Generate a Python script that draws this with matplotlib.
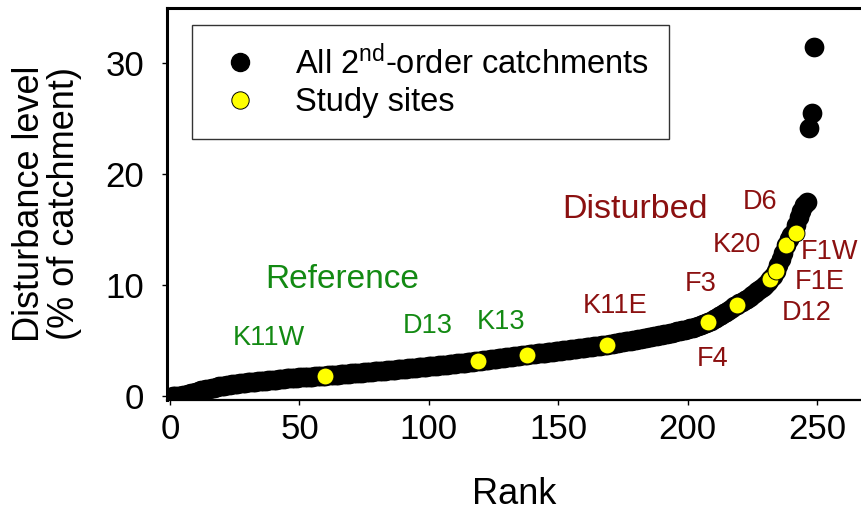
import matplotlib
matplotlib.use("Agg")
import matplotlib.pyplot as plt
from matplotlib.lines import Line2D

plt.rcParams['font.family'] = ['Liberation Sans', 'DejaVu Sans']
plt.rcParams['mathtext.fontset'] = 'custom'
plt.rcParams['mathtext.rm'] = 'Liberation Sans'
plt.rcParams['mathtext.it'] = 'Liberation Sans:italic'

# disturbance level (% of catchment) of every 2nd-order catchment, ranked 1..249
disturbance = [
    0.0, 0.0, 0.0, 0.02, 0.05, 0.1, 0.16, 0.23, 0.3, 0.37,
    0.44, 0.5, 0.56, 0.61, 0.66, 0.71, 0.76, 0.81, 0.86, 0.9,
    0.94, 0.98, 1.01, 1.04, 1.07, 1.1, 1.13, 1.16, 1.19, 1.22,
    1.25, 1.27, 1.3, 1.32, 1.34, 1.37, 1.39, 1.41, 1.44, 1.46,
    1.48, 1.51, 1.53, 1.55, 1.58, 1.6, 1.62, 1.64, 1.66, 1.68,
    1.69, 1.71, 1.72, 1.74, 1.75, 1.77, 1.78, 1.8, 1.81, 1.83,
    1.85, 1.87, 1.89, 1.91, 1.93, 1.95, 1.97, 1.99, 2.01, 2.03,
    2.05, 2.07, 2.09, 2.11, 2.13, 2.15, 2.17, 2.19, 2.21, 2.23,
    2.25, 2.27, 2.29, 2.31, 2.33, 2.35, 2.37, 2.39, 2.41, 2.43,
    2.45, 2.48, 2.5, 2.52, 2.55, 2.57, 2.6, 2.62, 2.64, 2.67,
    2.69, 2.71, 2.74, 2.76, 2.78, 2.81, 2.83, 2.86, 2.88, 2.91,
    2.93, 2.96, 2.98, 3.01, 3.04, 3.07, 3.1, 3.13, 3.16, 3.19,
    3.21, 3.24, 3.27, 3.3, 3.33, 3.36, 3.39, 3.42, 3.45, 3.48,
    3.5, 3.53, 3.56, 3.59, 3.62, 3.65, 3.68, 3.71, 3.74, 3.77,
    3.8, 3.83, 3.86, 3.88, 3.91, 3.94, 3.97, 4.0, 4.03, 4.06,
    4.09, 4.12, 4.15, 4.18, 4.21, 4.24, 4.27, 4.3, 4.33, 4.36,
    4.39, 4.42, 4.45, 4.48, 4.51, 4.54, 4.57, 4.6, 4.63, 4.67,
    4.71, 4.75, 4.79, 4.83, 4.87, 4.91, 4.95, 4.99, 5.03, 5.07,
    5.11, 5.15, 5.19, 5.24, 5.28, 5.33, 5.37, 5.42, 5.47, 5.52,
    5.57, 5.62, 5.67, 5.72, 5.77, 5.82, 5.87, 5.92, 5.97, 6.03,
    6.09, 6.15, 6.22, 6.29, 6.37, 6.46, 6.55, 6.65, 6.77, 6.9,
    7.03, 7.17, 7.31, 7.46, 7.61, 7.77, 7.93, 8.08, 8.23, 8.37,
    8.5, 8.64, 8.78, 8.93, 9.09, 9.26, 9.44, 9.62, 9.8, 10.0,
    10.25, 10.5, 10.85, 11.3, 11.8, 12.3, 12.9, 13.6, 14.1, 14.5,
    14.8, 15.4, 16.1, 16.7, 17.2, 17.5, 24.1, 25.5, 31.4,
]
ranks = list(range(1, len(disturbance) + 1))

# study sites
site_names = ['K11W', 'D13', 'K13', 'K11E', 'F4', 'F3', 'D12', 'F1E', 'K20', 'F1W']
site_ranks = [60, 119, 138, 169, 208, 219, 232, 234, 238, 242]
site_values = [1.83, 3.16, 3.71, 4.6, 6.65, 8.23, 10.5, 11.3, 13.6, 14.7]

green = '#138a13'
darkred = '#8b1010'

fig = plt.figure(figsize=(8.61, 5.13), dpi=100)
ax = fig.add_axes([167 / 861, 1 - 400 / 513, 1 - 167 / 861, 392 / 513])

ax.plot(ranks, disturbance, 'o', ms=14.2, mfc='black', mec='black', mew=0, zorder=2)
ax.plot(site_ranks, site_values, 'o', ms=12.2, mfc='yellow', mec='black', mew=0.7, zorder=3)

# labels (text, x, y, colour)
site_labels = [
    ('K11W', 38, 5.2, green), ('D13', 99.5, 6.3, green), ('K13', 128, 6.65, green),
    ('K11E', 172, 8.1, darkred), ('F4', 209.5, 3.3, darkred), ('F3', 205, 10.1, darkred),
    ('K20', 219, 13.6, darkred), ('D6', 228, 17.5, darkred), ('F1W', 255, 13.0, darkred),
    ('F1E', 251, 10.3, darkred), ('D12', 246, 7.5, darkred),
]
for txt, x, y, c in site_labels:
    ax.text(x, y, txt, color=c, fontsize=19.5, ha='center', va='center')
ax.text(66.5, 10.45, 'Reference', color=green, fontsize=24, ha='center', va='center')
ax.text(179.7, 16.8, 'Disturbed', color=darkred, fontsize=24.5, ha='center', va='center')

ax.set_xlim(-1.2, 267)
ax.set_ylim(-0.36, 34.95)
ax.set_xticks([0, 50, 100, 150, 200, 250])
ax.set_yticks([0, 10, 20, 30])
ax.tick_params(direction='out', length=3.6, width=1, labelsize=25)
ax.tick_params(axis='y', pad=13)
ax.tick_params(axis='x', pad=6)
ax.spines['right'].set_visible(False)
for s in ['left', 'top']:
    ax.spines[s].set_linewidth(2.2)
ax.spines['bottom'].set_linewidth(1.6)
ax.set_xlabel('Rank', fontsize=26, labelpad=22)
ax.set_ylabel('Disturbance level\n(% of catchment)', fontsize=26, labelpad=17, linespacing=1.0)

handles = [
    Line2D([], [], ls='none', marker='o', ms=13, mfc='black', mec='black'),
    Line2D([], [], ls='none', marker='o', ms=12.5, mfc='yellow', mec='black', mew=0.7),
]
leg = ax.legend(handles, [r'All 2$^{\mathrm{nd}}$-order catchments', 'Study sites'],
                loc='upper left', bbox_to_anchor=(0.036, 0.957), borderaxespad=0,
                fontsize=23.5, frameon=True, fancybox=False, edgecolor='black',
                borderpad=0.62, handlelength=1.7, handletextpad=0.85, labelspacing=0.2)
leg.get_frame().set_linewidth(1.0)

fig.savefig('out.png', dpi=100)
